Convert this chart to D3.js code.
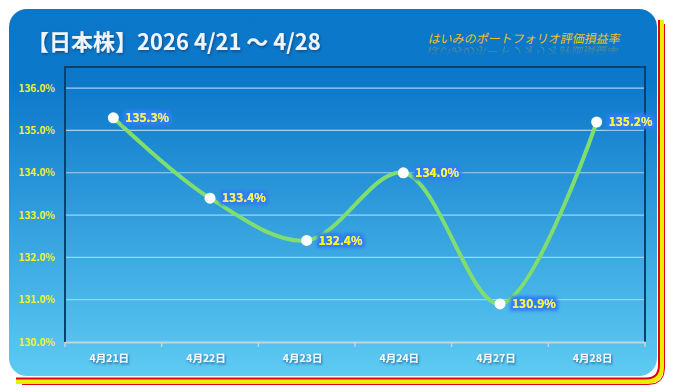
<!DOCTYPE html>
<html>
<head>
<meta charset="utf-8">
<script src="https://cdn.jsdelivr.net/npm/d3@7"></script>
<style>
  body { margin: 0; background: #fff; }
  text { font-family: "Noto Sans CJK JP", "Noto Sans", sans-serif; }
</style>
</head>
<body>
<div id="chart"></div>
<script>
// chart values
var dates = ["4月21日", "4月22日", "4月23日", "4月24日", "4月27日", "4月28日"];
var values = [135.3, 133.4, 132.4, 134.0, 130.9, 135.2];
var yTicks = [130, 131, 132, 133, 134, 135, 136];

var titleText = "【日本株】2026 4/21 ～ 4/28";
var subTitle = "はいみのポートフォリオ評価損益率";

var svgWidth = 674;
var svgHeight = 392;

// plot area
var plot = { left: 65, right: 645, top: 67, bottom: 342 };

var svg = d3.select("#chart")
  .append("svg")
  .attr("width", svgWidth)
  .attr("height", svgHeight);

var defs = svg.append("defs");

// panel gradient
var grad = defs.append("linearGradient")
  .attr("id", "bg")
  .attr("x1", 0).attr("y1", 0).attr("x2", 0).attr("y2", 1);
grad.append("stop").attr("offset", "0").attr("stop-color", "#0b77c9");
grad.append("stop").attr("offset", "0.2").attr("stop-color", "#0c78ca");
grad.append("stop").attr("offset", "1").attr("stop-color", "#5ecbf3");

// glow for data labels
var glow = defs.append("filter").attr("id", "glow")
  .attr("x", "-20%").attr("y", "-50%").attr("width", "140%").attr("height", "200%");
glow.append("feMorphology").attr("in", "SourceAlpha").attr("operator", "dilate").attr("radius", 2.5).attr("result", "d");
glow.append("feGaussianBlur").attr("in", "d").attr("stdDeviation", 1.5).attr("result", "b");
glow.append("feFlood").attr("flood-color", "#2f7ff0").attr("result", "c");
glow.append("feComposite").attr("in", "c").attr("in2", "b").attr("operator", "in").attr("result", "g");
var gm = glow.append("feMerge");
gm.append("feMergeNode").attr("in", "g");
gm.append("feMergeNode").attr("in", "SourceGraphic");

// soft shadow for title and axis labels
var shadow = defs.append("filter").attr("id", "shadow")
  .attr("x", "-10%").attr("y", "-30%").attr("width", "120%").attr("height", "160%");
shadow.append("feDropShadow").attr("dx", 1).attr("dy", 1.5).attr("stdDeviation", 1)
  .attr("flood-color", "#0a3f70").attr("flood-opacity", 0.7);

// fading mask for the subtitle reflection
var fade = defs.append("linearGradient")
  .attr("id", "fade").attr("x1", 0).attr("y1", 0).attr("x2", 0).attr("y2", 1);
fade.append("stop").attr("offset", "0").attr("stop-color", "#fff").attr("stop-opacity", 0.45);
fade.append("stop").attr("offset", "1").attr("stop-color", "#fff").attr("stop-opacity", 0);
defs.append("mask").attr("id", "fadeMask")
  .attr("maskUnits", "userSpaceOnUse")
  .attr("x", 400).attr("y", 45).attr("width", 240).attr("height", 16)
  .append("rect").attr("x", 400).attr("y", 45).attr("width", 240).attr("height", 11)
  .attr("fill", "url(#fade)");

// decorative frame lines (bottom / right)
svg.append("path")
  .attr("d", "M16,381 H646 Q661,381 661,366 V20")
  .attr("fill", "none").attr("stroke", "#e8f000").attr("stroke-width", 6);
svg.append("path")
  .attr("d", "M16,378.5 H646 Q659,378.5 659,365 V20")
  .attr("fill", "none").attr("stroke", "#e00010").attr("stroke-width", 2);
svg.append("path")
  .attr("d", "M22,384.5 H648 Q664.5,384.5 664.5,368 V24")
  .attr("fill", "none").attr("stroke", "#e00010").attr("stroke-width", 1);

// panel
svg.append("rect")
  .attr("x", 9).attr("y", 9)
  .attr("width", 648).attr("height", 367)
  .attr("rx", 18).attr("ry", 18)
  .attr("fill", "url(#bg)");

// title
svg.append("text")
  .attr("x", 27).attr("y", 50)
  .attr("fill", "#eef4fb")
  .attr("font-size", 22)
  .attr("font-weight", "bold")
  .attr("filter", "url(#shadow)")
  .text(titleText);

// subtitle
svg.append("text")
  .attr("x", 428).attr("y", 43)
  .attr("fill", "#f2c21a")
  .attr("font-size", 12)
  .attr("transform", "translate(9,0) skewX(-12)")
  .text(subTitle);

// reflection: mirrored around y = 45
svg.append("g").attr("mask", "url(#fadeMask)")
  .append("g")
  .attr("transform", "translate(0,90) scale(1,-1)")
  .append("text")
  .attr("x", 428).attr("y", 43)
  .attr("fill", "#f2c21a")
  .attr("font-size", 12)
  .attr("transform", "translate(-9,0) skewX(12)")
  .text(subTitle);

// scales
var x = d3.scaleBand()
  .domain(dates)
  .range([plot.left, plot.right]);

var y = d3.scaleLinear()
  .domain([130, 136.5])
  .range([plot.bottom, plot.top]);

// plot border
svg.append("path")
  .attr("d", `M${plot.left},${plot.bottom} V${plot.top} H${plot.right} V${plot.bottom}`)
  .attr("fill", "none").attr("stroke", "#0b3f6e").attr("stroke-width", 2);

// gridlines
svg.append("g")
  .selectAll("line")
  .data(yTicks.filter(d => d > 130))
  .enter()
  .append("line")
  .attr("x1", plot.left + 1).attr("x2", plot.right - 1)
  .attr("y1", d => y(d)).attr("y2", d => y(d))
  .attr("stroke", "#9fd2f6").attr("stroke-width", 1.2);

// y axis labels
var leftAxis = d3.axisLeft(y)
  .tickValues(yTicks)
  .tickSize(0)
  .tickPadding(10)
  .tickFormat(d => d.toFixed(1) + "%");

var yG = svg.append("g")
  .attr("transform", `translate(${plot.left}, 0)`)
  .call(leftAxis);
yG.select(".domain").remove();
yG.selectAll("text")
  .attr("fill", "#f4f41e")
  .attr("font-size", 10)
  .attr("font-weight", "bold")
  .attr("font-family", "\"Noto Sans CJK JP\", sans-serif");

// x axis
var bottomAxis = d3.axisBottom(x)
  .tickSize(0)
  .tickPadding(13);

var xG = svg.append("g")
  .attr("transform", `translate(0, ${plot.bottom})`)
  .call(bottomAxis);
xG.select(".domain")
  .attr("stroke", "#c8d2dc").attr("stroke-width", 2);
xG.selectAll("text")
  .attr("dx", -4)
  .attr("fill", "#f4f8fc")
  .attr("font-size", 10.5)
  .attr("font-weight", "bold")
  .attr("filter", "url(#shadow)")
  .attr("font-family", "\"Noto Sans CJK JP\", sans-serif");

// tick marks at category boundaries
xG.selectAll(".bound")
  .data(d3.range(dates.length + 1))
  .enter()
  .append("line")
  .attr("class", "bound")
  .attr("x1", i => plot.left + i * x.step())
  .attr("x2", i => plot.left + i * x.step())
  .attr("y1", 0).attr("y2", 5)
  .attr("stroke", "#c8d2dc").attr("stroke-width", 1.5);

// smoothed line
var pts = dates.map((d, i) => ({ date: d, value: values[i] }));

var line = d3.line()
  .x(d => x(d.date) + x.bandwidth() / 2)
  .y(d => y(d.value))
  .curve(d3.curveCatmullRom.alpha(0.5));

svg.append("path")
  .datum(pts)
  .attr("d", line)
  .attr("fill", "none")
  .attr("stroke", "#7fde6e")
  .attr("stroke-width", 4)
  .attr("stroke-linecap", "round");

// markers
svg.append("g")
  .selectAll("circle")
  .data(pts)
  .enter()
  .append("circle")
  .attr("cx", d => x(d.date) + x.bandwidth() / 2)
  .attr("cy", d => y(d.value))
  .attr("r", 5.5)
  .attr("fill", "#ffffff");

// data labels
svg.append("g")
  .selectAll("text")
  .data(pts)
  .enter()
  .append("text")
  .attr("x", d => x(d.date) + x.bandwidth() / 2 + 12)
  .attr("y", d => y(d.value))
  .attr("dy", "0.36em")
  .attr("fill", "#ffff00")
  .attr("font-size", 12)
  .attr("font-weight", "bold")
  .attr("filter", "url(#glow)")
  .text(d => d.value.toFixed(1) + "%");
</script>
</body>
</html>
